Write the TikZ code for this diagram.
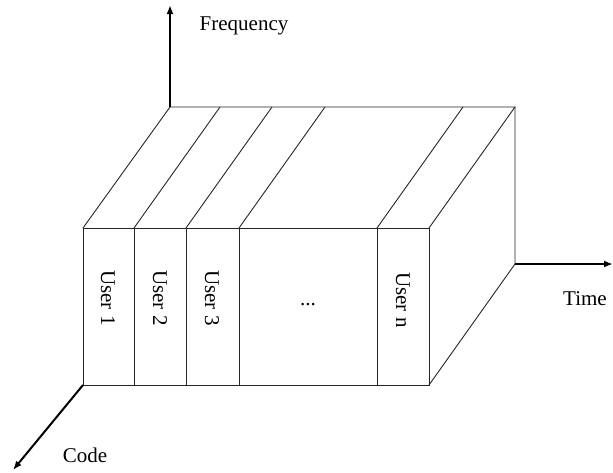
\documentclass[tikz,border=0pt]{standalone}
\usepackage{fontspec}
\setmainfont{Liberation Serif}
\usetikzlibrary{arrows.meta}
\begin{document}
\begin{tikzpicture}[x=1pt,y=-1pt,
  edge/.style={line width=0.9pt,draw=black!85},
  axis/.style={line width=2pt,-{Latex[length=9pt,width=7pt]}},
  lbl/.style={font=\fontsize{21}{24}\selectfont,inner sep=0pt},
  ulbl/.style={font=\fontsize{21}{24}\selectfont,inner sep=0pt,rotate=-90}]
\useasboundingbox (0,0) rectangle (613,472);
% corners
\coordinate (FTL) at (83,228);
\coordinate (FBL) at (83,385);
\coordinate (FTR) at (429,228);
\coordinate (FBR) at (429,385);
\coordinate (BTL) at (170,107);
\coordinate (BTR) at (515,107);
\coordinate (BBR) at (515,264);
% divider points
\coordinate (d1f) at (134,228); \coordinate (d1b) at (220,107); \coordinate (d1l) at (134,385);
\coordinate (d2f) at (186,228); \coordinate (d2b) at (272,107); \coordinate (d2l) at (186,385);
\coordinate (d3f) at (239,228); \coordinate (d3b) at (325,107); \coordinate (d3l) at (239,385);
\coordinate (d4f) at (377,228); \coordinate (d4b) at (463,107); \coordinate (d4l) at (377,385);
% axis tips
\coordinate (ftip) at (170,5);
\coordinate (ttip) at (613,264);
\coordinate (ctip) at (13,470);
% front face
\draw[edge] (FTL) rectangle (FBR);
\foreach \i in {1,2,3,4} \draw[edge] (d\i f) -- (d\i l);
% top face
\draw[edge] (FTL) -- (BTL) -- (BTR) -- (FTR);
\foreach \i in {1,2,3,4} \draw[edge] (d\i f) -- (d\i b);
% right face
\draw[edge] (BTR) -- (BBR) -- (FBR);
% axes
\draw[axis] (BTL) -- (ftip);
\draw[axis] (BBR) -- (ttip);
\draw[axis] (FBL) -- (ctip);
% labels
\node[lbl] (freq) at (244,26) {Frequency};
\node[lbl] (time) at (585,299) {Time};
\node[lbl] (code) at (85,455) {Code};
\node[ulbl] (u1) at (108,298) {User 1};
\node[ulbl] (u2) at (160,298) {User 2};
\node[ulbl] (u3) at (212,298) {User 3};
\node[lbl] (dots) at (308,305) {...};
\node[ulbl] (un) at (403,300) {User n};
\end{tikzpicture}
\end{document}
